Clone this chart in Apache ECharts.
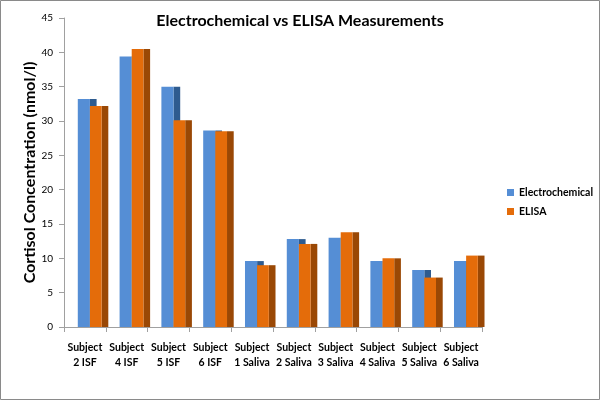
<!DOCTYPE html>
<html>
<head>
<meta charset="utf-8">
<script src="https://cdn.jsdelivr.net/npm/echarts@6/dist/echarts.min.js"></script>
<style>
html,body{margin:0;padding:0;background:#fff;}
#chart{width:600px;height:400px;}
</style>
</head>
<body>
<div id="chart"></div>
<script>
var categories = ['Subject\n2 ISF','Subject\n4 ISF','Subject\n5 ISF','Subject\n6 ISF','Subject\n1 Saliva','Subject\n2 Saliva','Subject\n3 Saliva','Subject\n4 Saliva','Subject\n5 Saliva','Subject\n6 Saliva'];
var electrochemical = [33.2, 39.4, 35.0, 28.6, 9.6, 12.8, 13.0, 9.6, 8.3, 9.6];
var elisa = [32.2, 40.5, 30.1, 28.5, 9.0, 12.1, 13.8, 10.0, 7.2, 10.4];
var yTicks = {min: 0, max: 45, interval: 5};

var FONT = 'Lato, "Open Sans", sans-serif';

function makeRender(x0, x1, front, side) {
  return function (params, api) {
    var idx = api.value(0);
    var val = api.value(1);
    var top = api.coord([idx, val]);
    var base = api.coord([idx, 0]);
    var bw = api.size([1, 0])[0];
    var cx = top[0];
    var left = cx + x0 * bw;
    var right = cx + x1 * bw;
    var sideW = 0.16 * bw;
    var h = base[1] - top[1];
    return {
      type: 'group',
      children: [
        {type: 'rect', shape: {x: right, y: top[1], width: sideW, height: h}, style: {fill: side}},
        {type: 'rect', shape: {x: left, y: top[1], width: right - left, height: h}, style: {fill: front}}
      ]
    };
  };
}

function toData(arr) {
  return arr.map(function (v, i) { return [i, v]; });
}

var chart = echarts.init(document.getElementById('chart'));
chart.setOption({
  animation: false,
  backgroundColor: '#fff',
  title: {
    text: 'Electrochemical vs ELISA Measurements',
    left: 'center',
    top: 8,
    textStyle: {fontFamily: FONT, fontWeight: 'bold', fontSize: 16, color: '#000'}
  },
  legend: {
    orient: 'vertical',
    left: 502,
    top: 182,
    itemWidth: 7,
    itemHeight: 7,
    itemGap: 8,
    icon: 'rect',
    textStyle: {fontFamily: FONT, fontWeight: 'bold', fontSize: 10.5, color: '#000'},
    data: ['Electrochemical', 'ELISA']
  },
  graphic: [{
    type: 'rect',
    shape: {x: 0.5, y: 0.5, width: 599, height: 399},
    style: {fill: 'none', stroke: '#8a8a8a', lineWidth: 1},
    silent: true
  }],
  grid: {left: 64, top: 18, width: 418, bottom: 73},
  xAxis: {
    type: 'category',
    data: categories,
    boundaryGap: true,
    axisLine: {lineStyle: {color: '#a0a0a0'}},
    axisTick: {show: true, alignWithLabel: false, length: 5, lineStyle: {color: '#a0a0a0'}},
    axisLabel: {interval: 0, margin: 13, fontFamily: FONT, fontWeight: 'bold', fontSize: 10.5, color: '#000', lineHeight: 15}
  },
  yAxis: {
    type: 'value',
    min: yTicks.min,
    max: yTicks.max,
    interval: yTicks.interval,
    name: 'Cortisol Concentration (nmol/l)',
    nameLocation: 'middle',
    nameGap: 26,
    nameMoveOverlap: false,
    nameTextStyle: {fontFamily: FONT, fontWeight: 'bold', fontSize: 16, color: '#000'},
    axisLine: {show: true, lineStyle: {color: '#a0a0a0'}},
    axisTick: {show: true, length: 5, lineStyle: {color: '#a0a0a0'}},
    axisLabel: {margin: 11, fontFamily: FONT, fontSize: 10, color: '#000'},
    splitLine: {show: false}
  },
  series: [
    {
      name: 'Electrochemical',
      type: 'custom',
      itemStyle: {color: '#558ED5'},
      renderItem: makeRender(-0.17, 0.12, '#558ED5', '#2E5B8F'),
      encode: {x: 0, y: 1},
      data: toData(electrochemical)
    },
    {
      name: 'ELISA',
      type: 'custom',
      itemStyle: {color: '#E46C0A'},
      renderItem: makeRender(0.12, 0.40, '#E46C0A', '#9A4805'),
      encode: {x: 0, y: 1},
      data: toData(elisa)
    }
  ]
});
</script>
</body>
</html>
